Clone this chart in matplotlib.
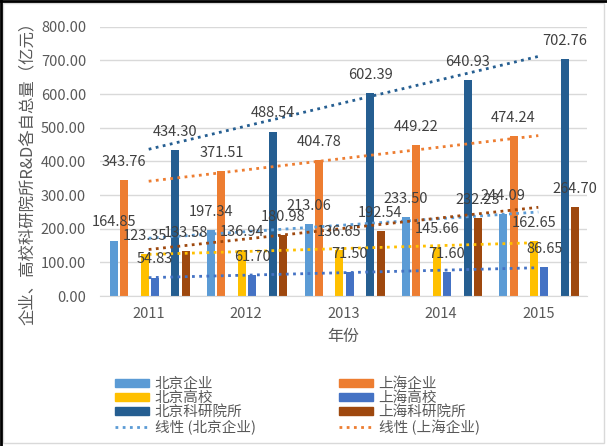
import numpy as np
import matplotlib
matplotlib.use('Agg')
import matplotlib.pyplot as plt
from matplotlib.patches import Patch, Rectangle
from matplotlib.lines import Line2D

plt.rcParams['font.family'] = ['Noto Sans CJK SC', 'DejaVu Sans']

years = ['2011', '2012', '2013', '2014', '2015']
bj_qiye = [164.85, 197.34, 213.06, 233.50, 244.09]
sh_qiye = [343.76, 371.51, 404.78, 449.22, 474.24]
bj_gaoxiao = [123.35, 136.94, 136.65, 145.66, 162.65]
sh_gaoxiao = [54.83, 61.70, 71.50, 71.60, 86.65]
bj_keyan = [434.30, 488.54, 602.39, 640.93, 702.76]
sh_keyan = [133.58, 180.98, 192.54, 232.23, 264.70]

# (label, values, colour, slot out of 8)
series = [
    ('北京企业', bj_qiye, '#5B9BD5', 0),
    ('上海企业', sh_qiye, '#ED7D31', 1),
    ('北京高校', bj_gaoxiao, '#FFC000', 3),
    ('上海高校', sh_gaoxiao, '#4472C4', 4),
    ('北京科研院所', bj_keyan, '#255E91', 6),
    ('上海科研院所', sh_keyan, '#9E480E', 7),
]

W, H = 607, 446
fig = plt.figure(figsize=(W / 100, H / 100), dpi=100)
ax = fig.add_axes([100 / W, 1 - 296 / H, 487 / W, (296 - 26.7) / H])

x = np.arange(len(years))
slot = 0.1056
bar_w = 0.082
txt = '#404040'
grey = '#595959'

for label, vals, col, s in series:
    xs = x + (s - 3.4) * slot
    ax.bar(xs, vals, width=bar_w, color=col, zorder=2)
    for xi, v in zip(xs, vals):
        ax.annotate('%.2f' % v, (xi, v), xytext=(0, 13), textcoords='offset points',
                    ha='center', va='center', fontsize=10.5, color=txt, zorder=4)
    # linear trendline at category centres
    k, b = np.polyfit(x, vals, 1)
    ax.plot(x, k * x + b, linestyle=(0, (1, 1.6)), color=col, lw=2.0, zorder=3)

ax.set_xlim(-0.5, 4.5)
ax.set_ylim(0, 800)
ax.set_yticks(np.arange(0, 801, 100))
ax.set_yticklabels(['%.2f' % t for t in np.arange(0, 801, 100)], fontsize=10.5, color=grey)
ax.set_xticks(x)
ax.set_xticklabels(years, fontsize=10.5, color=grey)
ax.tick_params(length=0, pad=8)
ax.tick_params(axis='y', pad=10)
ax.grid(axis='y', color='#D9D9D9', lw=1, zorder=0)
ax.set_axisbelow(True)
for sp in ['top', 'right', 'left']:
    ax.spines[sp].set_visible(False)
ax.spines['bottom'].set_color('#D9D9D9')

ax.set_ylabel('企业、高校科研院所R&D各自总量（亿元）', fontsize=11.8, color=grey)
ax.yaxis.set_label_coords(-0.131, 0.47)
ax.set_xlabel('年份', fontsize=11.5, color=grey, labelpad=5)

def handles(idx, trend_name, trend_col):
    hs, ls = [], []
    for i in idx:
        hs.append(Patch(color=series[i][2]))
        ls.append(series[i][0])
    hs.append(Line2D([], [], color=trend_col, linestyle=(0, (1, 1.6)), lw=2))
    ls.append(trend_name)
    return hs, ls

h1, l1 = handles([0, 2, 4], '线性 (北京企业)', '#5B9BD5')
h2, l2 = handles([1, 3, 5], '线性 (上海企业)', '#ED7D31')
kw = dict(loc='upper left', frameon=False, fontsize=10.5, labelcolor=grey,
          handlelength=2.3, handleheight=0.5, labelspacing=0.0, borderpad=0,
          handletextpad=0.4, bbox_transform=fig.transFigure)
leg1 = fig.legend(h1, l1, bbox_to_anchor=(108 / W, 1 - 370 / H), **kw)
leg2 = fig.legend(h2, l2, bbox_to_anchor=(332 / W, 1 - 370 / H), **kw)

# chart border
fig.add_artist(Rectangle((3 / W, 3 / H), (W - 6) / W, (H - 6) / H, transform=fig.transFigure,
                         fill=False, edgecolor='#D9D9D9', lw=1))
fig.add_artist(Line2D([0, 1], [1 - 1 / H, 1 - 1 / H], transform=fig.transFigure, color='black', lw=2))
fig.add_artist(Line2D([1 / W, 1 / W], [0, 1], transform=fig.transFigure, color='black', lw=2))

fig.savefig('out.png', dpi=100)
